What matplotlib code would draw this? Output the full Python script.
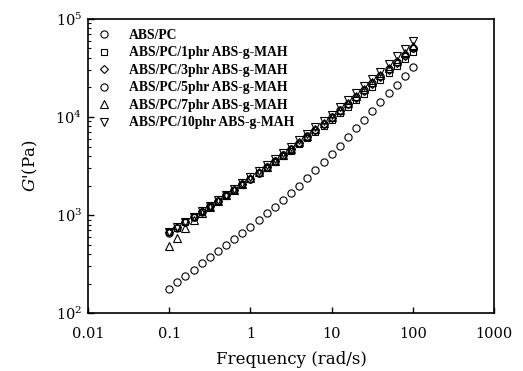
import matplotlib
matplotlib.use("Agg")
import matplotlib.pyplot as plt
from matplotlib.ticker import LogLocator, NullLocator, FixedLocator, FixedFormatter

plt.rcParams.update({
    "font.family": "DejaVu Serif",
    "mathtext.fontset": "dejavuserif",
    "xtick.direction": "in",
    "ytick.direction": "in",
    "axes.linewidth": 1.2,
})

# angular frequency (rad/s)
freq = [0.1, 0.126, 0.158, 0.2, 0.251, 0.316, 0.398, 0.501, 0.631, 0.794,
        1.0, 1.26, 1.58, 2.0, 2.51, 3.16, 3.98, 5.01, 6.31, 7.94,
        10.0, 12.6, 15.8, 20.0, 25.1, 31.6, 39.8, 50.1, 63.1, 79.4, 100.0]

# storage modulus G' (Pa)
g_abs_pc = [178, 206, 239, 277, 321, 372, 429, 494, 570, 658,
            759, 887, 1040, 1210, 1420, 1660, 2000, 2400, 2880, 3470,
            4170, 5100, 6250, 7660, 9380, 11500, 14100, 17400, 21400, 26300, 32400]
g_1phr = [665, 745, 850, 955, 1080, 1220, 1390, 1580, 1800, 2040,
          2320, 2660, 3040, 3480, 3970, 4540, 5260, 6060, 7030, 8090,
          9380, 10900, 12700, 14800, 17300, 20100, 23700, 27900, 32900, 38600, 45600]
g_3phr = [670, 752, 852, 962, 1090, 1235, 1405, 1600, 1820, 2070,
          2350, 2700, 3100, 3560, 4090, 4700, 5450, 6310, 7320, 8480,
          9840, 11500, 13500, 15800, 18500, 21700, 25600, 30300, 35800, 42300, 50000]
g_5phr = [650, 742, 840, 952, 1080, 1225, 1395, 1590, 1810, 2060,
          2350, 2700, 3110, 3570, 4100, 4720, 5480, 6350, 7380, 8560,
          9950, 11700, 13700, 16000, 18800, 22000, 26000, 30800, 36400, 43100, 51000]
g_7phr = [480, 590, 740, 890, 1040, 1210, 1390, 1590, 1810, 2070,
          2360, 2720, 3120, 3590, 4130, 4750, 5520, 6420, 7470, 8680,
          10100, 11900, 13900, 16300, 19200, 22600, 26700, 31700, 37600, 44600, 53000]
g_10phr = [670, 752, 850, 964, 1100, 1240, 1420, 1620, 1860, 2120,
           2430, 2800, 3230, 3730, 4300, 4960, 5770, 6720, 7830, 9100,
           10600, 12500, 14800, 17400, 20600, 24300, 29000, 34700, 41500, 49800, 59800]

series = [
    ("ABS/PC", g_abs_pc, "o"),
    ("ABS/PC/1phr ABS-g-MAH", g_1phr, "s"),
    ("ABS/PC/3phr ABS-g-MAH", g_3phr, "D"),
    ("ABS/PC/5phr ABS-g-MAH", g_5phr, "o"),
    ("ABS/PC/7phr ABS-g-MAH", g_7phr, "^"),
    ("ABS/PC/10phr ABS-g-MAH", g_10phr, "v"),
]
sizes = {"o": 5.2, "s": 5.0, "D": 4.2, "^": 5.6, "v": 5.6}

fig = plt.figure(figsize=(5.23, 3.71), dpi=100)
ax = fig.add_axes([0.168, 0.156, 0.777, 0.793])

for label, vals, mk in series:
    ax.plot(freq, vals, linestyle="none", marker=mk, markersize=sizes[mk],
            markerfacecolor="none", markeredgecolor="black",
            markeredgewidth=0.8, label=label)

ax.set_xscale("log")
ax.set_yscale("log")
ax.set_xlim(0.01, 1000)
ax.set_ylim(100, 1e5)

xt = [0.01, 0.1, 1, 10, 100, 1000]
ax.xaxis.set_major_locator(FixedLocator(xt))
ax.xaxis.set_major_formatter(FixedFormatter(["0.01", "0.1", "1", "10", "100", "1000"]))
ax.xaxis.set_minor_locator(NullLocator())
ax.yaxis.set_major_locator(LogLocator(base=10))
ax.yaxis.set_minor_locator(LogLocator(base=10, subs=range(2, 10)))

ax.tick_params(axis="both", which="major", labelsize=10.5, length=4, width=1.0,
               top=False, right=False)
ax.tick_params(axis="x", which="major", pad=10)
ax.tick_params(axis="y", which="major", pad=4)
ax.tick_params(axis="y", which="minor", length=2.5, width=0.8, right=False)

ax.set_xlabel("Frequency (rad/s)", fontsize=12, labelpad=7)
ax.set_ylabel("$G$'(Pa)", fontsize=12, labelpad=11)

leg = ax.legend(loc="upper left", bbox_to_anchor=(0.017, 0.975), frameon=False,
                handlelength=1.0, handletextpad=1.3, labelspacing=0.33,
                borderaxespad=0, borderpad=0.2,
                prop={"family": "Liberation Serif", "weight": "bold", "size": 9.8})

fig.savefig("out.png", dpi=100, facecolor="white")
